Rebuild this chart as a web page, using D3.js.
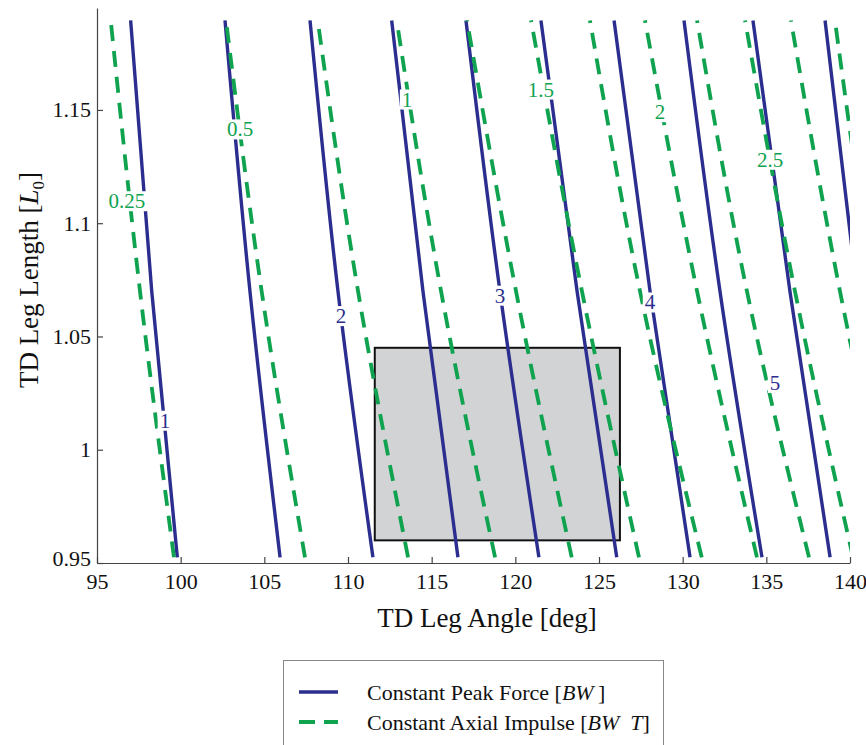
<!DOCTYPE html>
<html lang="en">
	<head>
		<meta charset="utf-8">
		<title>contours</title>
		<script type="text/javascript" src="https://cdn.jsdelivr.net/npm/d3@7"></script>
		<style type="text/css">
			body { margin: 0; background: #fff; }
			text { font-family: "Liberation Serif", "Times New Roman", serif; }
		</style>
	</head>
	<body>
		<script type="text/javascript">

			//Width and height
			var w = 866;
			var h = 745;

			//Leg length levels where each contour was read (bottom, middle, top)
			var lengthLevels = [0.9525, 1.07, 1.1895];

			//Constant peak force contours [BW] : angle at each length level
			var forceLevels = [1, 1.5, 2, 2.5, 3, 3.5, 4, 4.5, 5, 5.5];
			var forceAngles = [
				[99.80, 98.27, 97.01],
				[105.94, 104.14, 102.65],
				[111.49, 109.40, 107.73],
				[116.57, 114.48, 112.61],
				[121.41, 119.08, 117.05],
				[126.06, 123.69, 121.53],
				[130.44, 128.05, 125.90],
				[134.74, 132.23, 130.08],
				[138.81, 136.41, 134.20],
				[142.50, 140.42, 138.51]
			];

			//Constant axial impulse contours [BW T]
			var impulseLevels = [0.25, 0.5, 0.75, 1, 1.25, 1.5, 1.75, 2, 2.25, 2.5, 2.75, 3];
			var impulseAngles = [
				[99.60, 97.57, 95.82],
				[107.43, 104.84, 102.71],
				[113.59, 110.60, 108.19],
				[118.79, 115.56, 112.91],
				[123.37, 120.04, 117.11],
				[127.39, 123.98, 120.94],
				[131.14, 127.45, 124.46],
				[134.44, 130.86, 127.75],
				[137.55, 133.84, 130.86],
				[140.18, 136.71, 133.73],
				[142.80, 139.40, 136.47],
				[144.10, 141.40, 139.10]
			];

			//Inline contour labels: [text, angle, length]
			var forceLabels = [["1", 99.06, 1.0128], ["2", 109.58, 1.059], ["3", 119.08, 1.068], ["4", 128.05, 1.065], ["5", 135.52, 1.0295]];
			var impulseLabels = [["0.25", 96.79, 1.1097], ["0.5", 103.55, 1.1414], ["1", 113.53, 1.1546], ["1.5", 121.53, 1.159], ["2", 128.65, 1.149], ["2.5", 135.22, 1.128]];

			//Shaded region
			var regionAngle = [111.6, 126.25];
			var regionLength = [0.96, 1.045];

			var xTicks = [95, 100, 105, 110, 115, 120, 125, 130, 135, 140];
			var yTicks = [0.95, 1, 1.05, 1.1, 1.15];

			var blue = "#2b2e8e";
			var green = "#0fa24f";

			var xScale = d3.scaleLinear().domain([95, 140]).range([97, 850]);
			var yScale = d3.scaleLinear().domain([0.95, 1.195]).range([563, 8]);

			var svg = d3.select("body")
						.append("svg")
						.attr("width", w)
						.attr("height", h);

			svg.append("defs").append("clipPath")
				.attr("id", "plotclip")
				.append("rect")
				.attr("x", xScale(95))
				.attr("y", 0)
				.attr("width", xScale(140) - xScale(95))
				.attr("height", yScale(0.95));

			//Shaded box
			svg.append("rect")
				.attr("x", xScale(regionAngle[0]))
				.attr("y", yScale(regionLength[1]))
				.attr("width", xScale(regionAngle[1]) - xScale(regionAngle[0]))
				.attr("height", yScale(regionLength[0]) - yScale(regionLength[1]))
				.attr("fill", "#d1d3d5")
				.attr("stroke", "#111")
				.attr("stroke-width", 2);

			var line = d3.line()
				.x(function(d) { return xScale(d[0]); })
				.y(function(d) { return yScale(d[1]); })
				.curve(d3.curveNatural);

			function toPoints(angles) {
				return angles.map(function(a, i) { return [a, lengthLevels[i]]; });
			}

			var plot = svg.append("g").attr("clip-path", "url(#plotclip)");

			plot.selectAll("path.force")
				.data(forceAngles)
				.enter()
				.append("path")
				.attr("class", "force")
				.attr("d", function(d) { return line(toPoints(d)); })
				.attr("fill", "none")
				.attr("stroke", blue)
				.attr("stroke-width", 3.4);

			plot.selectAll("path.impulse")
				.data(impulseAngles)
				.enter()
				.append("path")
				.attr("class", "impulse")
				.attr("d", function(d) { return line(toPoints(d)); })
				.attr("fill", "none")
				.attr("stroke", green)
				.attr("stroke-width", 3.8)
				.attr("stroke-dasharray", "16,10");

			//Labels with white background
			function addLabels(data, color) {
				var g = svg.append("g");
				data.forEach(function(d) {
					var t = g.append("text")
						.attr("x", xScale(d[1]))
						.attr("y", yScale(d[2]))
						.attr("text-anchor", "middle")
						.attr("dominant-baseline", "central")
						.attr("font-size", 21)
						.attr("fill", color)
						.text(d[0]);
					var b = t.node().getBBox();
					g.insert("rect", "text")
						.attr("x", b.x - 2)
						.attr("y", b.y + 2)
						.attr("width", b.width + 4)
						.attr("height", b.height - 4)
						.attr("fill", "#fff");
				});
			}
			addLabels(impulseLabels, green);
			addLabels(forceLabels, blue);

			//Axes
			var xAxis = d3.axisBottom(xScale)
				.tickValues(xTicks)
				.tickSizeInner(-6)
				.tickSizeOuter(0)
				.tickPadding(10);

			var yAxis = d3.axisLeft(yScale)
				.tickValues(yTicks)
				.tickFormat(function(d) { return d3.format("")(d); })
				.tickSizeInner(-6)
				.tickSizeOuter(0)
				.tickPadding(6);

			var gx = svg.append("g")
				.attr("transform", "translate(0," + yScale(0.95) + ")")
				.call(xAxis);

			var gy = svg.append("g")
				.attr("transform", "translate(" + xScale(95) + ",0)")
				.call(yAxis);

			[gx, gy].forEach(function(g) {
				g.selectAll("path").attr("stroke", "#444").attr("stroke-width", 1.2);
				g.selectAll("line").attr("stroke", "#444").attr("stroke-width", 1.2);
				g.selectAll("text")
					.attr("font-size", 22)
					.attr("fill", "#111")
					.style("font-family", "Liberation Serif, serif");
			});
			gy.select(".tick text").attr("dy", "0.1em");

			//Axis titles
			svg.append("text")
				.attr("x", 487)
				.attr("y", 627)
				.attr("text-anchor", "middle")
				.attr("font-size", 27)
				.attr("fill", "#111")
				.text("TD Leg Angle [deg]");

			var yt = svg.append("text")
				.attr("transform", "translate(38,280) rotate(-90)")
				.attr("text-anchor", "middle")
				.attr("font-size", 27)
				.attr("fill", "#111");
			yt.append("tspan").text("TD Leg Length [");
			yt.append("tspan").attr("font-style", "italic").text("L");
			yt.append("tspan").attr("font-size", 17).attr("dy", 6).text("0");
			yt.append("tspan").attr("dy", -6).text("]");

			//Legend
			svg.append("rect")
				.attr("x", 283.5)
				.attr("y", 660.5)
				.attr("width", 380)
				.attr("height", 100)
				.attr("fill", "#fff")
				.attr("stroke", "#888")
				.attr("stroke-width", 1);

			var legend = [
				{ color: blue, dash: null, width: 3.4, y: 692, parts: [["Constant Peak Force [", false], ["BW", true], ["\u2009]", false]] },
				{ color: green, dash: "16,9", width: 3.8, y: 722, parts: [["Constant Axial Impulse [", false], ["BW\u2002T", true], ["]", false]] }
			];

			legend.forEach(function(d) {
				svg.append("line")
					.attr("x1", 299).attr("x2", 338)
					.attr("y1", d.y).attr("y2", d.y)
					.attr("stroke", d.color)
					.attr("stroke-width", d.width)
					.attr("stroke-dasharray", d.dash);
				var t = svg.append("text")
					.attr("x", 367)
					.attr("y", d.y + 8)
					.attr("font-size", 22)
					.attr("fill", "#111");
				d.parts.forEach(function(p) {
					t.append("tspan").attr("font-style", p[1] ? "italic" : null).text(p[0]);
				});
			});

		</script>
	</body>
</html>
